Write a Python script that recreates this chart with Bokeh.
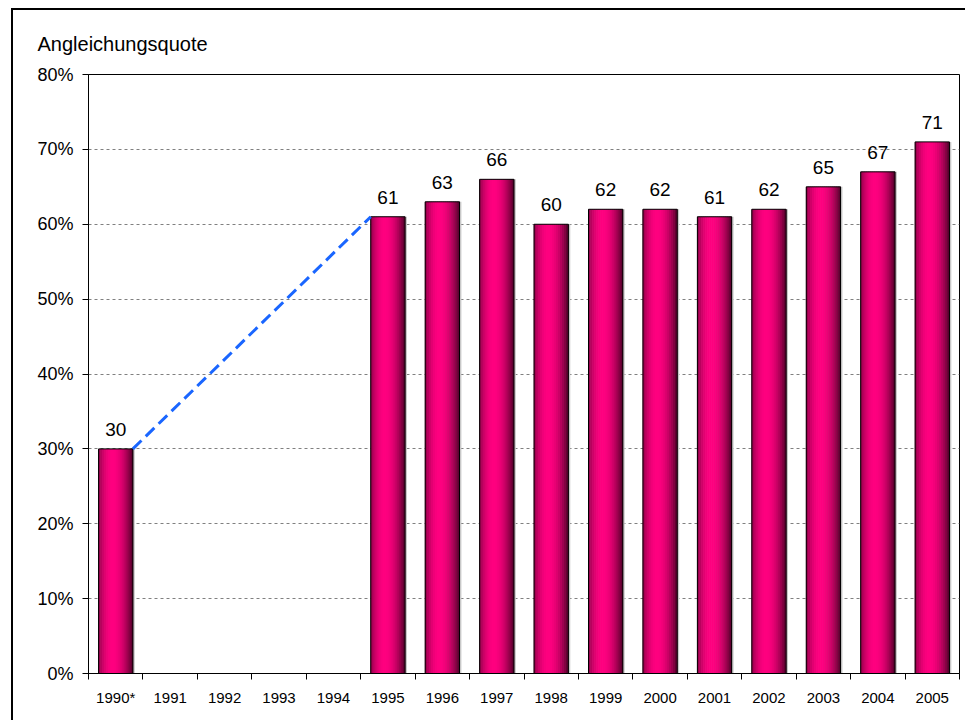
import math
from bokeh.plotting import figure
from bokeh.models import Range1d, FixedTicker, NumeralTickFormatter, ColumnDataSource
from bokeh.transform import dodge
from bokeh.core.properties import value
from bokeh.embed import file_html
from bokeh.resources import INLINE

# ---- data ----
years = ["1990*", "1991", "1992", "1993", "1994", "1995", "1996", "1997",
         "1998", "1999", "2000", "2001", "2002", "2003", "2004", "2005"]
quote = [30, None, None, None, None, 61, 63, 66, 60, 62, 62, 61, 62, 65, 67, 71]
y_ticks = [0, 10, 20, 30, 40, 50, 60, 70, 80]
title_text = "Angleichungsquote"

FONT = "Liberation Sans"
idx = list(range(len(years)))
bar_x = [i for i, v in zip(idx, quote) if v is not None]
bar_top = [v / 100 for v in quote if v is not None]
bar_lab = [str(v) for v in quote if v is not None]
src = ColumnDataSource(dict(x=bar_x, top=bar_top, label=bar_lab))

p = figure(width=954, height=712, output_backend="svg", toolbar_location=None,
           x_range=Range1d(-0.5, len(years) - 0.5), y_range=Range1d(0, y_ticks[-1] / 100),
           min_border_left=75, min_border_right=8, min_border_top=64, min_border_bottom=49)
p.styles = {"border-top": "2px solid black", "border-left": "2px solid black",
            "margin-left": "11px", "margin-top": "8px"}

p.title.text = title_text
p.title.text_font = FONT
p.title.text_font_size = "20px"
p.title.text_font_style = "normal"
p.title.text_color = "black"
p.title.align = "left"
p.title.vertical_align = "top"
p.title.offset = -51
p.title.standoff = 36

p.outline_line_color = "black"
p.outline_line_width = 1
p.background_fill_color = "white"
p.border_fill_color = "white"

# grid
p.xgrid.visible = False
p.ygrid.ticker = FixedTicker(ticks=[t / 100 for t in y_ticks[1:-1]])
p.ygrid.grid_line_color = "#808080"
p.ygrid.grid_line_dash = "3 3"
p.ygrid.grid_line_width = 1

# bars: shadow, gradient slices, outline
BW = 0.63
p.vbar(x=dodge("x", 0.035), top="top", width=BW, source=src,
       fill_color="#c8c8c8", line_color=None)

N = 17
def shade(u):
    # cylinder shading: dark edges, bright centre-left
    if u < 0.42:
        t = math.sin(u / 0.42 * math.pi / 2) ** 0.7
        lo = (0x80, 0x00, 0x40)
    else:
        t = math.cos((u - 0.42) / 0.58 * math.pi / 2) ** 0.8
        lo = (0x4a, 0x00, 0x25)
    hi = (0xff, 0x00, 0x80)
    c = [int(lo[j] + (hi[j] - lo[j]) * t) for j in range(3)]
    return "#%02x%02x%02x" % tuple(c)

for k in range(N):
    u = (k + 0.5) / N
    off = -BW / 2 + u * BW
    p.vbar(x=dodge("x", off), top="top", width=BW / N * 1.3, source=src,
           fill_color=shade(u), line_color=None)

p.vbar(x="x", top="top", width=BW, source=src, fill_color=None,
       line_color="black", line_width=1)

# dashed connector between 1990 and 1995
p.line([bar_x[0] + BW / 2, bar_x[1] - BW / 2], [bar_top[0], bar_top[1]],
       line_color="#1a66ff", line_width=3, line_dash="12 6")

# value labels
p.text(x="x", y="top", text="label", source=src, text_align="center",
       text_baseline="bottom", y_offset=-13, text_font=value(FONT),
       text_font_size="19px", text_color="black")

# axes
xa = p.xaxis[0]
xa.ticker = FixedTicker(ticks=idx, minor_ticks=[i - 0.5 for i in range(len(years) + 1)])
xa.major_label_overrides = {i: y for i, y in enumerate(years)}
xa.major_tick_in = 0
xa.major_tick_out = 0
xa.minor_tick_in = 0
xa.minor_tick_out = 6
xa.minor_tick_line_color = "black"
xa.axis_line_color = "black"
xa.major_label_text_font = FONT
xa.major_label_text_font_size = "15px"
xa.major_label_text_color = "black"
xa.major_label_standoff = 9

ya = p.yaxis[0]
ya.ticker = FixedTicker(ticks=[t / 100 for t in y_ticks])
ya.formatter = NumeralTickFormatter(format="0%")
ya.major_tick_in = 0
ya.major_tick_out = 6
ya.minor_tick_out = 0
ya.minor_tick_in = 0
ya.major_tick_line_color = "black"
ya.axis_line_color = "black"
ya.major_label_text_font = FONT
ya.major_label_text_font_size = "18px"
ya.major_label_text_color = "black"
ya.major_label_standoff = 9

open("out.html", "w").write(file_html(p, INLINE))
